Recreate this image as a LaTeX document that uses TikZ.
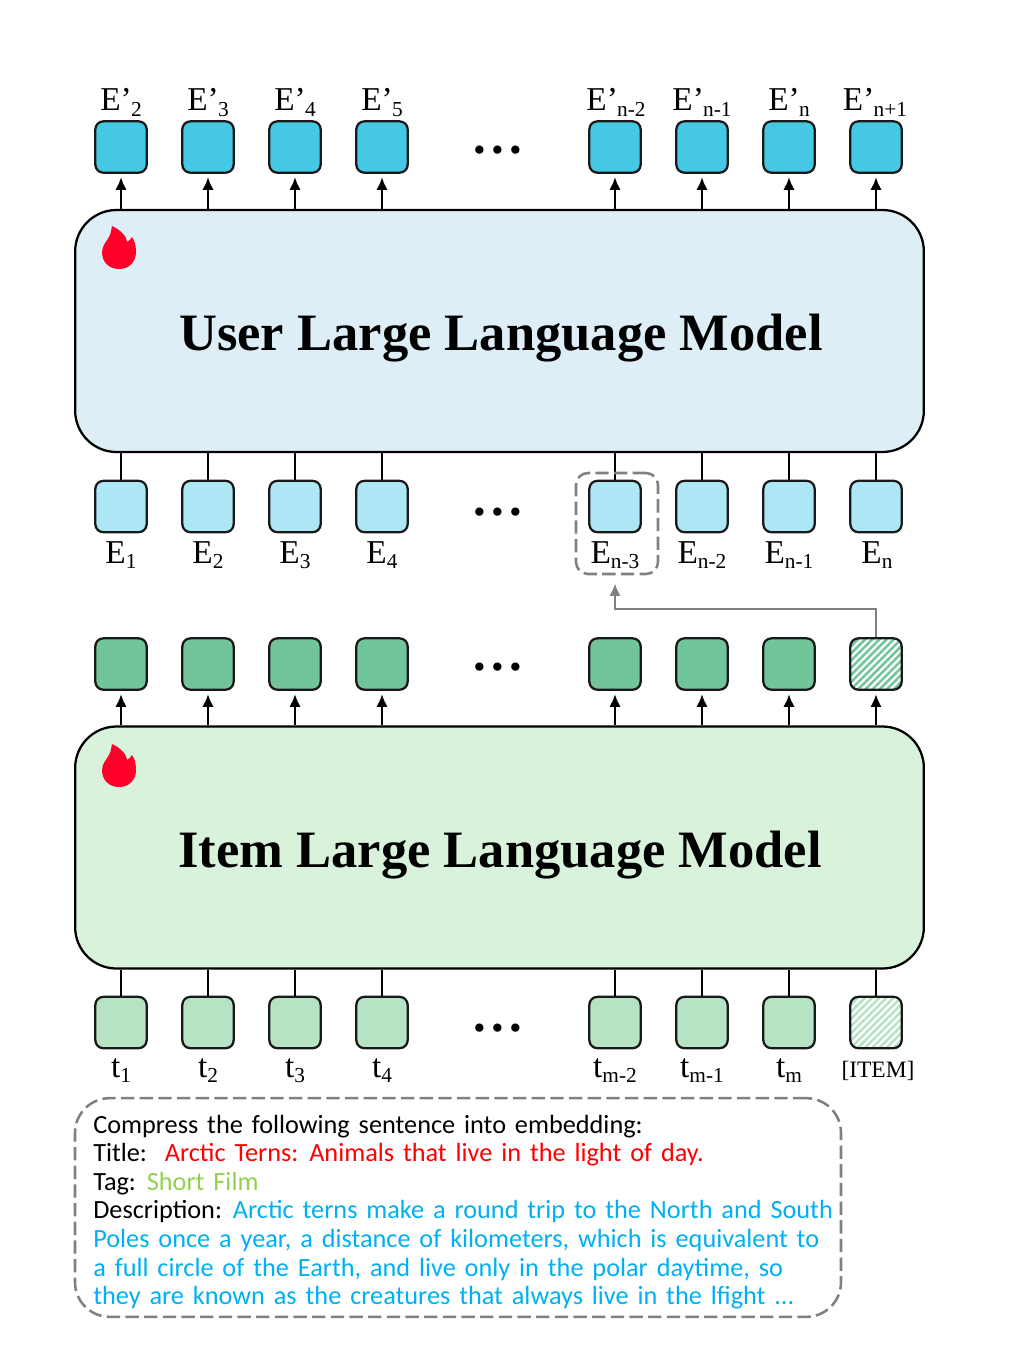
\documentclass[tikz,border=0pt]{standalone}
\usepackage{fontspec}
\usepackage{xcolor}
\setmainfont{Liberation Serif}
\newfontfamily\handfont[WordSpace=1.5]{Carlito}
\usetikzlibrary{arrows.meta,patterns.meta}

\definecolor{userfill}{HTML}{DEEEF6}
\definecolor{itemfill}{HTML}{D9F2DC}
\definecolor{userout}{HTML}{45C8E4}
\definecolor{userin}{HTML}{ADE6F4}
\definecolor{itemout}{HTML}{72C59A}
\definecolor{itemin}{HTML}{B7E3C5}
\definecolor{flamered}{HTML}{FF0029}
\definecolor{edgegray}{HTML}{808080}
\definecolor{tagred}{HTML}{FF0000}
\definecolor{taggreen}{HTML}{92D050}
\definecolor{tagblue}{HTML}{00B0F0}

\newcommand{\emb}[2]{#1\raisebox{-3.75pt}{\fontsize{16}{16}\selectfont #2}}
\newcommand{\embp}[2]{#1’\raisebox{-5pt}{\fontsize{16}{16}\selectfont\kern-0.5pt #2}}

\begin{document}
\begin{tikzpicture}[
  x=0.75pt,y=-0.75pt,
  cell/.style={draw=black!90,line width=1.7pt,rounded corners=6pt,minimum size=38.5pt,inner sep=0pt},
  model/.style={draw=black,line width=1.7pt,rounded corners=31pt,minimum width=636.5pt,minimum height=181.5pt,inner sep=0pt},
  modeltitle/.style={anchor=base,inner sep=0pt,font=\fontsize{39.4}{39.4}\selectfont\bfseries},
  emblabel/.style={anchor=base,inner sep=0pt,font=\fontsize{25}{25}\selectfont},
  dotsrow/.style={anchor=base,inner sep=0pt,font=\fontsize{38}{38}\selectfont\bfseries},
  arrow/.style={-{Latex[length=9.5pt,width=8.5pt]},line width=1.7pt,draw=black,shorten >=2.5pt},
  wire/.style={line width=1.7pt,draw=black},
  grayarrow/.style={-{Latex[length=9.5pt,width=8.5pt]},line width=2pt,draw=edgegray,shorten >=6pt},
  graybox/.style={draw=edgegray,line width=1.9pt,dashed,dash pattern=on 10pt off 4pt},
  flame/.pic={\fill[flamered] (0,19) .. controls (-10,19) and (-17,12) .. (-17,2) .. controls (-17,-5) and (-11,-10) .. (-9,-15) .. controls (-8,-18) and (-7.5,-21) .. (-7,-24) .. controls (2,-20) and (8,-13) .. (8,-8) .. controls (10,-9) and (12,-11) .. (13,-13) .. controls (16,-9) and (17,-3) .. (17,2) .. controls (17,12) and (10,19) .. (0,19) -- cycle;}
]
\useasboundingbox (0,0) rectangle (1014,1354);

% models
\node[model,fill=userfill] (umodel) at (499.5,331) {};
\node[model,fill=itemfill] (imodel) at (499.5,847.5) {};
\node[modeltitle] (utitle) at (501,350) {User Large Language Model};
\node[modeltitle] (ititle) at (500,867) {Item Large Language Model};
\pic at (119,250) {flame};
\pic at (119,768) {flame};

% user output row
\node[cell,fill=userout] (uo1) at (121,147) {};
\node[cell,fill=userout] (uo2) at (208,147) {};
\node[cell,fill=userout] (uo3) at (295,147) {};
\node[cell,fill=userout] (uo4) at (382,147) {};
\node[cell,fill=userout] (uo5) at (615,147) {};
\node[cell,fill=userout] (uo6) at (702,147) {};
\node[cell,fill=userout] (uo7) at (789,147) {};
\node[cell,fill=userout] (uo8) at (876,147) {};
\node[emblabel] (uol1) at (121,110) {\embp{E}{2}};
\node[emblabel] (uol2) at (208,110) {\embp{E}{3}};
\node[emblabel] (uol3) at (295,110) {\embp{E}{4}};
\node[emblabel] (uol4) at (382,110) {\embp{E}{5}};
\node[emblabel] (uol5) at (616,110) {\embp{E}{n-2}};
\node[emblabel] (uol6) at (702,110) {\embp{E}{n-1}};
\node[emblabel] (uol7) at (789,110) {\embp{E}{n}};
\node[emblabel] (uol8) at (875,110) {\embp{E}{n+1}};
\node[dotsrow] (udots1) at (498,153) {.\hspace{4pt}.\hspace{4pt}.};

% user input row
\node[cell,fill=userin] (ui1) at (121,506.5) {};
\node[cell,fill=userin] (ui2) at (208,506.5) {};
\node[cell,fill=userin] (ui3) at (295,506.5) {};
\node[cell,fill=userin] (ui4) at (382,506.5) {};
\node[cell,fill=userin] (ui5) at (615,506.5) {};
\node[cell,fill=userin] (ui6) at (702,506.5) {};
\node[cell,fill=userin] (ui7) at (789,506.5) {};
\node[cell,fill=userin] (ui8) at (876,506.5) {};
\node[emblabel] (uil1) at (121,563) {\emb{E}{1}};
\node[emblabel] (uil2) at (208,563) {\emb{E}{2}};
\node[emblabel] (uil3) at (295,563) {\emb{E}{3}};
\node[emblabel] (uil4) at (382,563) {\emb{E}{4}};
\node[emblabel] (uil5) at (615,563) {\emb{E}{n-3}};
\node[emblabel] (uil6) at (702,563) {\emb{E}{n-2}};
\node[emblabel] (uil7) at (789,563) {\emb{E}{n-1}};
\node[emblabel] (uil8) at (877,563) {\emb{E}{n}};
\node[dotsrow] (udots2) at (498,515) {.\hspace{4pt}.\hspace{4pt}.};

% item output row
\node[cell,fill=itemout] (io1) at (121,664) {};
\node[cell,fill=itemout] (io2) at (208,664) {};
\node[cell,fill=itemout] (io3) at (295,664) {};
\node[cell,fill=itemout] (io4) at (382,664) {};
\node[cell,fill=itemout] (io5) at (615,664) {};
\node[cell,fill=itemout] (io6) at (702,664) {};
\node[cell,fill=itemout] (io7) at (789,664) {};
\node[cell,pattern={Lines[angle=45,distance=3.8pt,line width=1.9pt]},pattern color=itemout] (io8) at (876,664) {};
\node[dotsrow] (idots1) at (498,670) {.\hspace{4pt}.\hspace{4pt}.};

% item input row
\node[cell,fill=itemin] (ii1) at (121,1022.5) {};
\node[cell,fill=itemin] (ii2) at (208,1022.5) {};
\node[cell,fill=itemin] (ii3) at (295,1022.5) {};
\node[cell,fill=itemin] (ii4) at (382,1022.5) {};
\node[cell,fill=itemin] (ii5) at (615,1022.5) {};
\node[cell,fill=itemin] (ii6) at (702,1022.5) {};
\node[cell,fill=itemin] (ii7) at (789,1022.5) {};
\node[cell,pattern={Lines[angle=45,distance=3.8pt,line width=1.9pt]},pattern color=itemin] (ii8) at (876,1022.5) {};
\node[emblabel] (iil1) at (121,1077) {\emb{t}{1}};
\node[emblabel] (iil2) at (208,1077) {\emb{t}{2}};
\node[emblabel] (iil3) at (295,1077) {\emb{t}{3}};
\node[emblabel] (iil4) at (382,1077) {\emb{t}{4}};
\node[emblabel] (iil5) at (615,1077) {\emb{t}{m-2}};
\node[emblabel] (iil6) at (702,1077) {\emb{t}{m-1}};
\node[emblabel] (iil7) at (789,1077) {\emb{t}{m}};
\node[emblabel,font=\fontsize{17.6}{17.6}\selectfont] (iil8) at (878,1077) {[ITEM]};
\node[dotsrow] (idots2) at (498,1031) {.\hspace{4pt}.\hspace{4pt}.};

% connectors
\draw[arrow] (umodel.north -| uo1.south) -- (uo1.south);
\draw[arrow] (umodel.north -| uo2.south) -- (uo2.south);
\draw[arrow] (umodel.north -| uo3.south) -- (uo3.south);
\draw[arrow] (umodel.north -| uo4.south) -- (uo4.south);
\draw[arrow] (umodel.north -| uo5.south) -- (uo5.south);
\draw[arrow] (umodel.north -| uo6.south) -- (uo6.south);
\draw[arrow] (umodel.north -| uo7.south) -- (uo7.south);
\draw[arrow] (umodel.north -| uo8.south) -- (uo8.south);
\draw[wire] (ui1.north) -- (umodel.south -| ui1.north);
\draw[wire] (ui2.north) -- (umodel.south -| ui2.north);
\draw[wire] (ui3.north) -- (umodel.south -| ui3.north);
\draw[wire] (ui4.north) -- (umodel.south -| ui4.north);
\draw[wire] (ui5.north) -- (umodel.south -| ui5.north);
\draw[wire] (ui6.north) -- (umodel.south -| ui6.north);
\draw[wire] (ui7.north) -- (umodel.south -| ui7.north);
\draw[wire] (ui8.north) -- (umodel.south -| ui8.north);
\draw[arrow] (imodel.north -| io1.south) -- (io1.south);
\draw[arrow] (imodel.north -| io2.south) -- (io2.south);
\draw[arrow] (imodel.north -| io3.south) -- (io3.south);
\draw[arrow] (imodel.north -| io4.south) -- (io4.south);
\draw[arrow] (imodel.north -| io5.south) -- (io5.south);
\draw[arrow] (imodel.north -| io6.south) -- (io6.south);
\draw[arrow] (imodel.north -| io7.south) -- (io7.south);
\draw[arrow] (imodel.north -| io8.south) -- (io8.south);
\draw[wire] (ii1.north) -- (imodel.south -| ii1.north);
\draw[wire] (ii2.north) -- (imodel.south -| ii2.north);
\draw[wire] (ii3.north) -- (imodel.south -| ii3.north);
\draw[wire] (ii4.north) -- (imodel.south -| ii4.north);
\draw[wire] (ii5.north) -- (imodel.south -| ii5.north);
\draw[wire] (ii6.north) -- (imodel.south -| ii6.north);
\draw[wire] (ii7.north) -- (imodel.south -| ii7.north);
\draw[wire] (ii8.north) -- (imodel.south -| ii8.north);

% selected item slot
\node[graybox,rounded corners=9pt,minimum width=61.5pt,minimum height=75.75pt,inner sep=0pt] (slot) at (617,523.5) {};
\coordinate (bend) at (615,609);
\draw[grayarrow] (io8.north) |- (bend) -- (bend |- slot.south);

% prompt
\node[graybox,rounded corners=26pt,minimum width=574.5pt,minimum height=164pt,inner sep=0pt] (prompt) at (458,1207.5) {};
\node[anchor=north west,inner sep=0pt,align=left,font=\handfont\fontsize{19.7}{21.45}\selectfont] (ptext) at (93,1114.5) {Compress the following sentence into embedding:\\
Title:\ \ \textcolor{tagred}{Arctic Terns: Animals that live in the light of day.}\\
Tag: \textcolor{taggreen}{Short Film}\\
Description: \textcolor{tagblue}{Arctic terns make a round trip to the North and South}\\
\textcolor{tagblue}{Poles once a year, a distance of kilometers, which is equivalent to}\\
\textcolor{tagblue}{a full circle of the Earth, and live only in the polar daytime, so}\\
\textcolor{tagblue}{they are known as the creatures that always live in the lfight ...}};
\end{tikzpicture}
\end{document}
